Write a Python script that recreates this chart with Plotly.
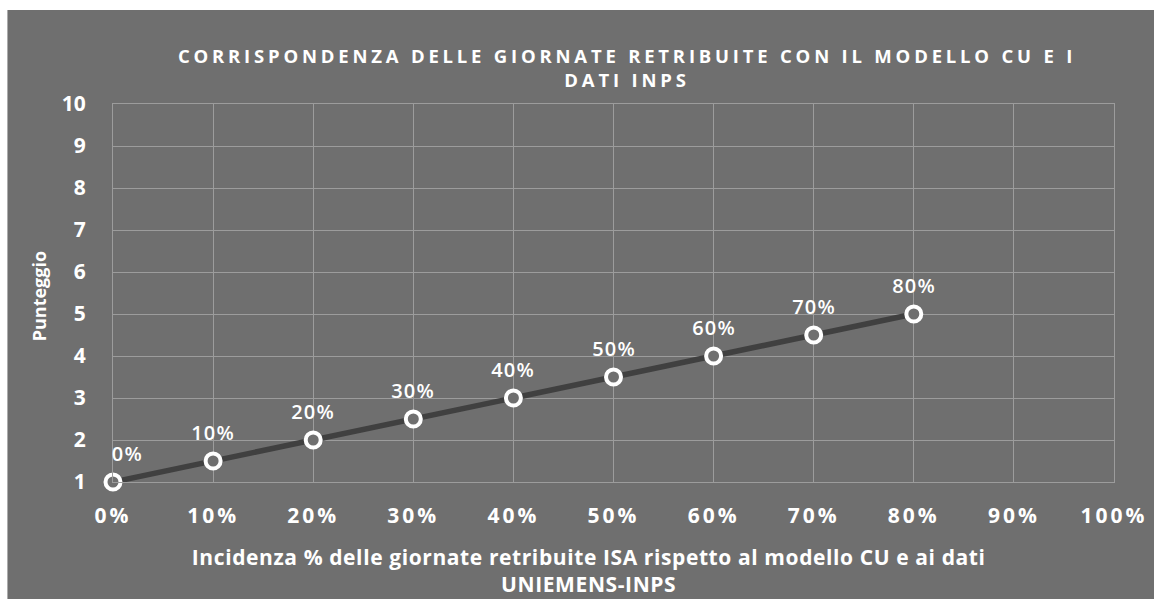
import plotly.graph_objects as go

x_vals = [0.0, 0.1, 0.2, 0.3, 0.4, 0.5, 0.6, 0.7, 0.8]
y_vals = [1, 1.5, 2, 2.5, 3, 3.5, 4, 4.5, 5]
point_labels = ["0%", "10%", "20%", "30%", "40%", "50%", "60%", "70%", "80%"]

title_text = "CORRISPONDENZA DELLE GIORNATE RETRIBUITE CON IL MODELLO CU E I<br>DATI INPS"
x_title = "Incidenza % delle giornate retribuite ISA rispetto al modello CU e ai dati<br>UNIEMENS-INPS"
y_title = "Punteggio"

BG = "#6f6f6f"
GRID = "#9c9c9c"
FONT = "Open Sans"

W, H = 1154, 599
L, R, T, B = 113, 36, 104, 117
pw, ph = W - L - R, H - T - B

fig = go.Figure()
fig.add_trace(go.Scatter(
    x=x_vals, y=y_vals, mode="lines+markers", cliponaxis=False,
    line=dict(color="#404040", width=5.5),
    marker=dict(size=15, color=BG, line=dict(color="white", width=4)),
    hoverinfo="skip", showlegend=False,
))

for i, (xv, yv, lab) in enumerate(zip(x_vals, y_vals, point_labels)):
    fig.add_annotation(x=xv, y=yv, text=lab, showarrow=False, yshift=29,
                       xanchor="left" if i == 0 else "center", xshift=-2 if i == 0 else 0,
                       font=dict(family=FONT, size=20, color="white", weight=600))

fig.add_annotation(xref="paper", yref="paper", x=(590 - L) / pw, y=(H - B - 570) / ph,
                   xanchor="center", yanchor="middle",
                   text=x_title, showarrow=False, align="center",
                   font=dict(family=FONT, size=21, color="white", weight="bold"))
fig.add_annotation(xref="paper", yref="paper", x=(39 - L) / pw, y=(H - B - 296) / ph,
                   xanchor="center", yanchor="middle",
                   text=y_title, showarrow=False, textangle=-90,
                   font=dict(family=FONT, size=18, color="white", weight="bold"))

# white strips at top and left of the chart area
fig.add_shape(type="rect", xref="paper", yref="paper", layer="below",
              x0=-L / pw - 0.1, x1=(W - L) / pw + 0.1, y0=(H - B - 10) / ph, y1=(H - B) / ph + 0.1,
              fillcolor="white", line=dict(width=0))
fig.add_shape(type="rect", xref="paper", yref="paper", layer="below",
              x0=-L / pw - 0.1, x1=(7 - L) / pw, y0=-B / ph - 0.1, y1=(H - B) / ph + 0.1,
              fillcolor="white", line=dict(width=0))

fig.update_xaxes(range=[0, 1], dtick=0.1, tick0=0, tickformat=".0%",
                 showgrid=True, gridcolor=GRID, gridwidth=1, zeroline=False,
                 showline=True, linecolor=GRID, mirror=True, ticks="",
                 tickfont=dict(family=FONT, size=21, color="white", weight="bold"),
                 ticklabelstandoff=15)
fig.update_yaxes(range=[1, 10], dtick=1, tick0=1,
                 showgrid=True, gridcolor=GRID, gridwidth=1, zeroline=False,
                 showline=True, linecolor=GRID, mirror=True, ticks="",
                 tickfont=dict(family=FONT, size=21, color="white", weight="bold"),
                 ticklabelstandoff=22)

fig.update_layout(
    width=W, height=H,
    margin=dict(l=L, r=R, t=T, b=B),
    paper_bgcolor=BG, plot_bgcolor=BG,
    showlegend=False,
    title=dict(text=title_text, x=627 / W, xanchor="center",
               y=1 - 63 / H, yanchor="middle",
               font=dict(family=FONT, size=18.5, color="white", weight="bold")),
)

css = ("body{margin:0;padding:0;}"
       ".gtitle{letter-spacing:3.8px;}"
       ".xtick text{letter-spacing:3px;}"
       ".annotation[data-index='0'] text,.annotation[data-index='1'] text,"
       ".annotation[data-index='2'] text,.annotation[data-index='3'] text,"
       ".annotation[data-index='4'] text,.annotation[data-index='5'] text,"
       ".annotation[data-index='6'] text,.annotation[data-index='7'] text,"
       ".annotation[data-index='8'] text{letter-spacing:1.2px;}"
       ".annotation[data-index='9'] text{letter-spacing:0.6px;}")
post = ("var s=document.createElement('style');s.innerHTML=\"" + css + "\";"
        "document.head.appendChild(s);")

fig.write_html("out.html", post_script=post, config={"displayModeBar": False})
